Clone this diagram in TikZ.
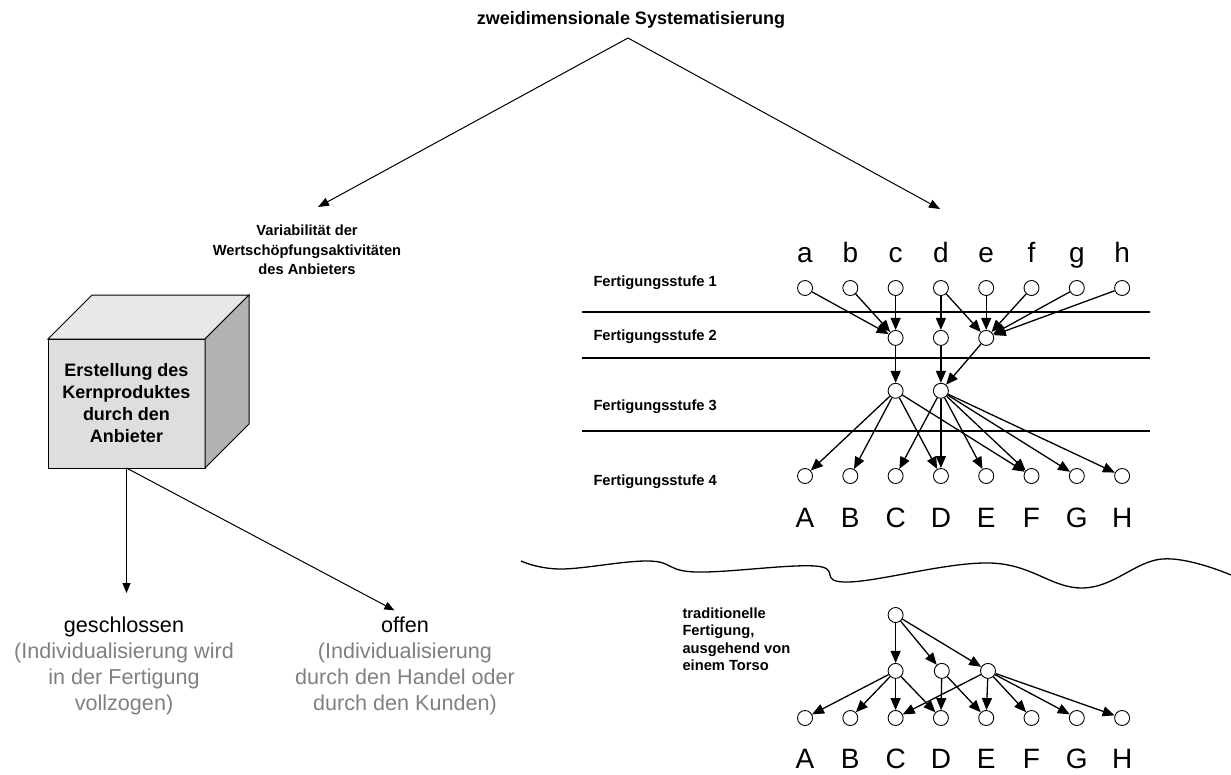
\documentclass[tikz,border=0pt]{standalone}
\usepackage{fontspec}
\setmainfont{Liberation Sans}
\usepackage{tikz}
\usetikzlibrary{arrows.meta,positioning}
\definecolor{grau}{gray}{0.5}
\tikzset{
    %Define standard arrow tip
    >={Triangle[length=11pt,width=8.5pt]},
    %Define style for circles
    kreis/.style={
           circle,
           draw=black, line width=0.9pt,
           minimum size=15pt,
           inner sep=0pt},
    buchstabe/.style={
           anchor=base,
           inner sep=0pt,
           font=\fontsize{28}{30}\selectfont},
    stufe/.style={
           anchor=west,
           inner sep=0pt,
           font=\fontsize{14.7}{17.5}\selectfont\bfseries},
    titel/.style={
           align=center,
           font=\fontsize{18}{22}\selectfont\bfseries},
    klein/.style={
           align=center,
           inner sep=0pt,
           font=\fontsize{14.7}{19.5}\selectfont\bfseries},
    wuerfel/.style={
           rectangle,
           draw=black, line width=1pt,
           fill=black!13,
           outer sep=0pt,
           minimum width=157pt,
           minimum height=129pt,
           align=center,
           font=\fontsize{18}{22}\selectfont\bfseries},
    art/.style={
           align=center,
           anchor=north,
           inner sep=0pt,
           font=\fontsize{21.6}{26}\selectfont},
    % Define arrow style
    pfeil/.style={
           -{Triangle[length=12pt,width=10pt]},
           line width=1.3pt},
    trenn/.style={line width=1.8pt}
}

\begin{document}
\begin{tikzpicture}[x=1pt,y=-1pt,line width=1pt]
\useasboundingbox (0,0) rectangle (1231,774);
 %title and the two directions
\node[titel] (sys) at (631,20) {zweidimensionale Systematisierung};
\coordinate (spitze) at (628,38);
\coordinate (links) at (318,207);
\coordinate (rechts) at (940,209);
\draw[->] (spitze) -- (links);
\draw[->] (spitze) -- (rechts);
\node[klein] (vari) at (307,250) {Variabilität der\\Wertschöpfungsaktivitäten\\des Anbieters};
 %cube
\node[wuerfel] (kern) at (126.5,403.5) {Erstellung des\\Kernproduktes\\durch den\\Anbieter};
\draw[fill=black!9] (kern.north west) -- ++(44,-44) -- ++(157,0) -- (kern.north east) -- cycle;
\draw[fill=black!30] (kern.north east) -- ++(44,-44) -- ++(0,129) -- (kern.south east) -- cycle;
\node[art] (ges) at (124,616) {geschlossen\\\textcolor{grau}{(Individualisierung wird}\\\textcolor{grau}{in der Fertigung}\\\textcolor{grau}{vollzogen)}};
\node[art] (off) at (405,616) {offen\\\textcolor{grau}{(Individualisierung}\\\textcolor{grau}{durch den Handel oder}\\\textcolor{grau}{durch den Kunden)}};
\path[->,>={Triangle[length=10pt,width=8pt]}]
   (kern.south) edge[shorten >=23pt] (kern.south |- ges.north)
   (kern.south) edge[shorten >=12pt] (off.north);
 %levels
\foreach \y in {312,358,431}
  \draw[trenn] (582,\y) -- (1150,\y);
\node[stufe] (st1) at (593,283) {Fertigungsstufe 1};
\node[stufe] (st2) at (593,337) {Fertigungsstufe 2};
\node[stufe] (st3) at (593,407) {Fertigungsstufe 3};
\node[stufe] (st4) at (593,482) {Fertigungsstufe 4};
 %nodes
\foreach \n/\N [count=\i from 0] in {a/A,b/B,c/C,d/D,e/E,f/F,g/G,h/H}{
  \node[kreis] (o\n) at (805+45.3*\i,288) {};
  \node[buchstabe] at (805+45.3*\i,262) {\n};
  \node[kreis] (e\N) at (805+45.3*\i,476) {};
  \node[buchstabe] at (805+45.3*\i,527) {\N};
  \node[kreis] (t\N) at (805+45.3*\i,718) {};
  \node[buchstabe] at (805+45.3*\i,768) {\N};
}
\node[kreis, below=34pt of oc](zc){};
\node[kreis, below=34pt of od](zd){};
\node[kreis, below=34pt of oe](ze){};
\node[kreis, below=37pt of zc](dc){};
\node[kreis, below=37pt of zd](dd){};
 \path[pfeil]
   (oa) edge (zc)
   (ob) edge (zc)
   (oc) edge (zc)
   (od) edge (zd)
   (od) edge (ze)
   (oe) edge (ze)
   (of) edge (ze)
   (og) edge (ze)
   (oh) edge (ze)
   (zc) edge (dc)
   (zd) edge (dd)
   (ze) edge (dd)
   (dc) edge (eA)
   (dc) edge (eB)
   (dc) edge (eD)
   (dc) edge (eF)
   (dd) edge (eC)
   (dd) edge (eD)
   (dd) edge (eE)
   (dd) edge (eF)
   (dd) edge (eG)
   (dd) edge (eH);
 %break
\draw[line width=1.3pt] plot[smooth,tension=0.65] coordinates {(521,561) (561,569) (649,561) (696,572) (815,566) (848,582) (990,563) (1083,588) (1162,559) (1231,575)};
 %traditional
\node[stufe, align=left, anchor=north west] (trad) at (682,607) {traditionelle\\Fertigung,\\ausgehend von\\einem Torso};
\node[kreis] (torso) at (895.6,615) {};
\node[kreis, below=40pt of torso](r1){};
\node[kreis, right=30.3pt of r1](r2){};
\node[kreis, right=30.3pt of r2](r3){};
 \path[pfeil]
   (torso) edge (r1)
   (torso) edge (r2)
   (torso) edge (r3)
   (r1) edge (tA)
   (r1) edge (tB)
   (r1) edge (tC)
   (r1) edge (tD)
   (r2) edge (tD)
   (r2) edge (tE)
   (r3) edge (tC)
   (r3) edge (tE)
   (r3) edge (tF)
   (r3) edge (tG)
   (r3) edge (tH);
\end{tikzpicture}
\end{document}
